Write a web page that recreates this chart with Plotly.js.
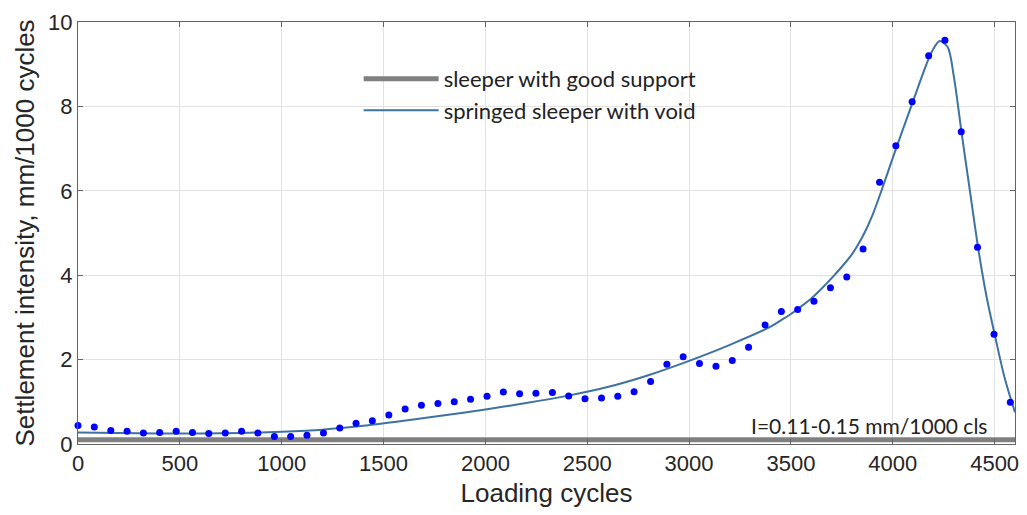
<!DOCTYPE html>
<html>
<head>
<meta charset="utf-8">
<script src="https://cdn.plot.ly/plotly-3.0.1.min.js"></script>
<style>html,body{margin:0;padding:0;background:#fff;}#chart{width:1027px;height:515px;}</style>
</head>
<body>
<div id="chart"></div>
<script>
// measured points (blue dots)
const dotX = [0, 80, 161, 241, 321, 401, 482, 562, 642, 723, 803, 883, 964, 1044, 1124, 1205, 1285, 1365, 1445, 1526,
  1606, 1686, 1767, 1847, 1927, 2008, 2088, 2168, 2248, 2329, 2409, 2489, 2570, 2650, 2730, 2811, 2891, 2971, 3051, 3132,
  3212, 3292, 3373, 3453, 3533, 3613, 3694, 3774, 3854, 3935, 4015, 4095, 4176, 4256, 4336, 4416, 4497, 4577];
const dotY = [0.44, 0.40, 0.32, 0.30, 0.26, 0.27, 0.30, 0.27, 0.25, 0.26, 0.30, 0.26, 0.18, 0.18, 0.21, 0.26, 0.38, 0.49, 0.55, 0.69,
  0.83, 0.92, 0.96, 1.00, 1.06, 1.13, 1.23, 1.19, 1.20, 1.22, 1.14, 1.07, 1.09, 1.13, 1.24, 1.48, 1.89, 2.07, 1.91, 1.84,
  1.98, 2.29, 2.82, 3.14, 3.19, 3.38, 3.70, 3.96, 4.62, 6.20, 7.07, 8.11, 9.20, 9.57, 7.40, 4.66, 2.60, 0.99];

// fitted curve: springed sleeper with void
const voidX = [0, 200, 400, 600, 800, 1000, 1200, 1400, 1600, 1800, 2000, 2200, 2400, 2600, 2800, 3000, 3200, 3400, 3450, 3500,
  3550, 3600, 3650, 3700, 3750, 3800, 3850, 3900, 3950, 4000, 4050, 4100, 4150, 4190, 4230, 4270, 4300, 4340, 4380, 4420,
  4460, 4500, 4550, 4600];
const voidY = [0.27, 0.26, 0.25, 0.25, 0.26, 0.29, 0.34, 0.43, 0.55, 0.68, 0.82, 0.97, 1.14, 1.35, 1.63, 1.97, 2.35, 2.78, 2.93, 3.08,
  3.26, 3.45, 3.68, 3.93, 4.20, 4.50, 4.90, 5.42, 6.08, 6.78, 7.46, 8.13, 8.80, 9.28, 9.55, 9.40, 8.70, 7.30, 5.95, 4.62,
  3.50, 2.60, 1.55, 0.75];

// sleeper with good support
const goodX = [0, 4600];
const goodY = [0.10, 0.10];

const legendNames = ['sleeper with good support', 'springed sleeper with void'];
const noteText = 'I=0.11-0.15 mm/1000 cls';
const xTitle = 'Loading cycles';
const yTitle = 'Settlement intensity, mm/1000 cycles';

const legFont = 'Lato, "Open Sans", sans-serif';
const axFont = '"Liberation Sans", Arial, sans-serif';

const traces = [
  {x: goodX, y: goodY, type: 'scatter', mode: 'lines', name: legendNames[0],
   line: {color: 'rgb(128,128,128)', width: 5}},
  {x: voidX, y: voidY, type: 'scatter', mode: 'lines', name: legendNames[1],
   line: {color: 'rgb(62,114,160)', width: 2, shape: 'spline', smoothing: 0.8}},
  {x: dotX, y: dotY, type: 'scatter', mode: 'markers', showlegend: false, cliponaxis: false,
   marker: {color: 'rgb(0,0,255)', size: 7}}
];

const layout = {
  width: 1027, height: 515,
  margin: {l: 78, r: 12, t: 22, b: 71},
  paper_bgcolor: '#fff', plot_bgcolor: '#fff',
  showlegend: true,
  legend: {x: 0.2995, y: 0.915, xanchor: 'left', yanchor: 'top', bgcolor: 'rgba(0,0,0,0)',
    itemwidth: 75,
    font: {family: legFont, size: 22, color: '#222'}, tracegroupgap: 0},
  xaxis: {range: [0, 4600], tickvals: [0, 500, 1000, 1500, 2000, 2500, 3000, 3500, 4000, 4500],
    showgrid: true, gridcolor: 'rgb(226,226,226)', zeroline: false,
    showline: true, linecolor: 'rgb(100,100,100)', linewidth: 1, mirror: 'ticks',
    ticks: 'inside', ticklen: 5, tickcolor: 'rgb(100,100,100)',
    tickfont: {family: axFont, size: 22, color: '#262626'},
    title: {text: xTitle, font: {family: axFont, size: 26, color: '#262626'}, standoff: 8}},
  yaxis: {range: [0, 10], tickvals: [0, 2, 4, 6, 8, 10],
    showgrid: true, gridcolor: 'rgb(226,226,226)', zeroline: false,
    showline: true, linecolor: 'rgb(100,100,100)', linewidth: 1, mirror: 'ticks',
    ticks: 'inside', ticklen: 5, tickcolor: 'rgb(100,100,100)',
    tickfont: {family: axFont, size: 22, color: '#262626'},
    title: {text: yTitle, font: {family: axFont, size: 26, color: '#262626'}, standoff: 6}},
  annotations: [{x: 0.972, y: 0.1, xref: 'paper', yref: 'y', xanchor: 'right', yanchor: 'bottom',
    text: noteText, showarrow: false, font: {family: legFont, size: 21, color: '#222'}}]
};

Plotly.newPlot('chart', traces, layout, {displayModeBar: false, staticPlot: true});
</script>
</body>
</html>
